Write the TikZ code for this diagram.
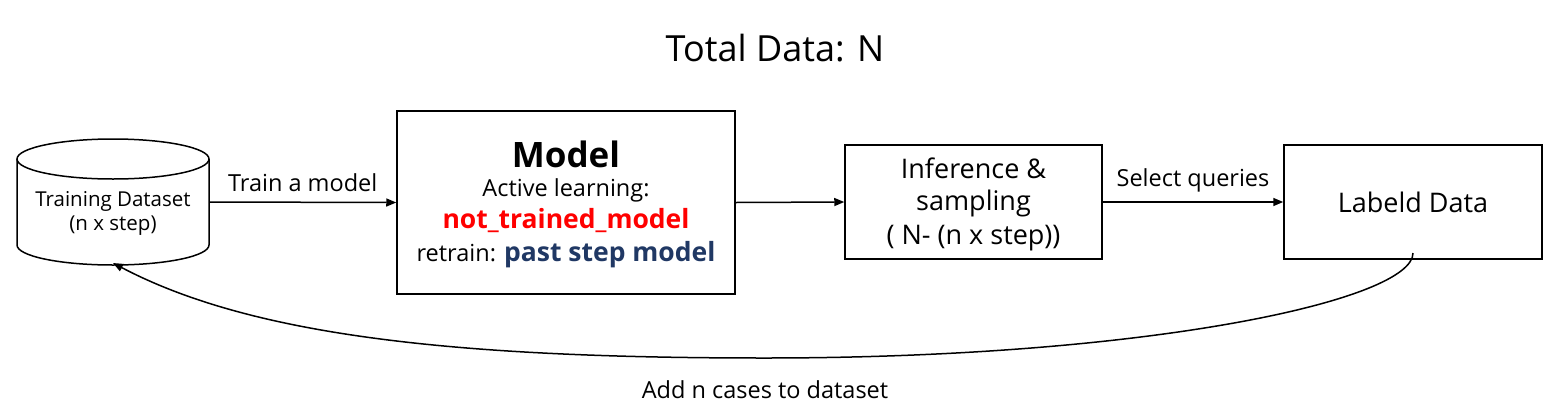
\documentclass[tikz,border=0pt]{standalone}
\usepackage{fontspec}
\setmainfont{Open Sans}
\usetikzlibrary{arrows.meta}
\definecolor{navy}{HTML}{203864}
\definecolor{myred}{HTML}{FF0000}
\begin{document}
\begin{tikzpicture}[x=1pt,y=-1pt,
  box/.style={draw,line width=1.5pt,minimum width=#1,inner sep=0pt,align=center},
  conn/.style={line width=1.5pt,-{Triangle[length=10pt,width=8pt]}},
  lbl/.style={font=\fontsize{23.5}{28}\selectfont},
  txt/.style={inner sep=0pt,anchor=center}]
\useasboundingbox (0,0) rectangle (1564,413);
\node[font=\fontsize{36}{40}\selectfont] (title) at (775,48) {Total Data: N};
% cylinder
\draw[line width=1.5pt,fill=white] (17,159) -- (17,245) arc[start angle=180,end angle=0,x radius=96,y radius=20] -- (209,159);
\draw[line width=1.5pt] (113,159) ellipse[x radius=96,y radius=20];
\node[minimum width=192pt,minimum height=126pt,inner sep=0pt] (ds) at (113,202) {};
\node[txt,font=\fontsize{20.5}{24}\selectfont] (dst1) at (113,201) {Training Dataset};
\node[txt,font=\fontsize{20.5}{24}\selectfont] (dst2) at (113,226) {(n x step)};
% model
\node[box=338pt,minimum height=183pt] (model) at (566,202.5) {};
\node[txt,font=\fontsize{35}{40}\selectfont\bfseries] (m1) at (566,154) {Model};
\node[txt,font=\fontsize{23.5}{28}\selectfont] (m2) at (566,190) {Active learning:};
\node[txt,font=\fontsize{26.5}{30}\selectfont\bfseries,text=myred] (m3) at (566,221) {not\_trained\_model};
\node[txt,font=\fontsize{23.5}{28}\selectfont] (m4) at (566,255) {retrain: {\fontsize{26.5}{30}\selectfont\bfseries\color{navy}past step model}};
% inference
\node[box=257pt,minimum height=114pt] (inf) at (973.5,202) {};
\node[txt,font=\fontsize{27}{32}\selectfont] (i1) at (973.5,168) {Inference \&};
\node[txt,font=\fontsize{27}{32}\selectfont] (i2) at (973.5,203) {sampling};
\node[txt,font=\fontsize{27}{32}\selectfont] (i3) at (973.5,238) {( N- (n x step))};
% labeled
\node[box=258pt,minimum height=114pt,font=\fontsize{27}{32}\selectfont] (lab) at (1413,202) {Labeld Data};
% connectors
\draw[conn] (ds.east) -- (model.west) node[lbl,midway,above=6pt] (l1) {Train a model};
\draw[conn] (model.east) -- (inf.west);
\draw[conn] (inf.east) -- (lab.west) node[lbl,midway,above=6pt] (l2) {Select queries};
\coordinate (cs) at (1413,253);
\coordinate (cb) at (765,358);
\coordinate (ce) at (113,263);
\draw[conn] (cs) .. controls (1413,300) and (1150,358) .. (cb) .. controls (450,358) and (250,335) .. (ce);
\node[lbl] (l3) at (765,390) {Add n cases to dataset};
\end{tikzpicture}
\end{document}
